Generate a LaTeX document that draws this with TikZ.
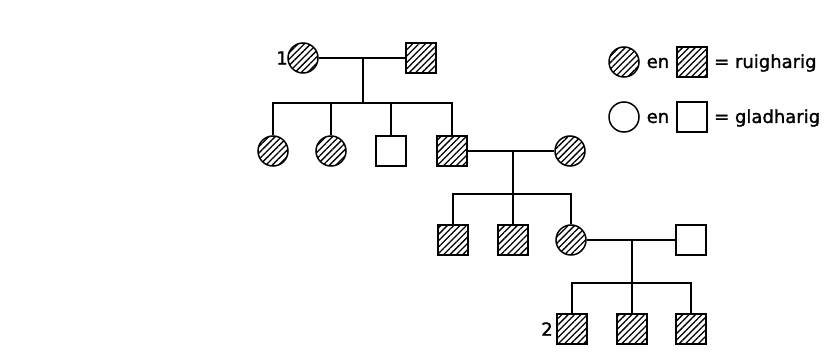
\documentclass[tikz,border=0pt]{standalone}
\usepackage{fontspec}
\setmainfont{DejaVu Sans}
\newfontfamily\lblfont[FakeBold=1.4]{DejaVu Sans}
\usetikzlibrary{patterns.meta}
\tikzset{
  lw/.style={line width=1.5pt},
  male/.style={draw, lw, minimum size=30pt, inner sep=0pt, rectangle},
  female/.style={draw, lw, minimum size=30pt, inner sep=0pt, circle},
  aff/.style={pattern={Lines[angle=45,distance=4.5pt,line width=1.3pt]}},
  link/.style={draw, lw},
  lbl/.style={font=\lblfont\fontsize{18}{20}\selectfont, inner sep=0pt}
}
\begin{document}
\begin{tikzpicture}[x=1pt,y=-1pt]
\useasboundingbox (0,0) rectangle (836,361);
% generation 1
\node[female,aff] (g1a) at (303,58) {};
\node[male,aff] (g1b) at (421,58) {};
\node[lbl] (n1) at (282,58) {1};
% generation 2
\node[female,aff] (g2a) at (273,151) {};
\node[female,aff] (g2b) at (331,151) {};
\node[male] (g2c) at (391,151) {};
\node[male,aff] (g2d) at (452,151) {};
\node[female,aff] (g2e) at (570,151) {};
% generation 3
\node[male,aff] (g3a) at (453,240) {};
\node[male,aff] (g3b) at (513,240) {};
\node[female,aff] (g3c) at (571,240) {};
\node[male] (g3d) at (691,240) {};
% generation 4
\node[male,aff] (g4a) at (572,329) {};
\node[male,aff] (g4b) at (632,329) {};
\node[male,aff] (g4c) at (691,329) {};
\node[lbl] (n2) at (547,329) {2};
% junction coordinates
\coordinate (m1) at (363,58);
\coordinate (s1) at (363,103);
\coordinate (m2) at (513,151);
\coordinate (s2) at (513,194);
\coordinate (m3) at (632,240);
\coordinate (s3) at (632,283);
% family 1
\draw[link] (g1a) -- (g1b);
\draw[link] (m1) -- (s1);
\draw[link] (g2a.north) |- (s1) -| (g2d.north);
\draw[link] (g2b.north) -- (g2b.north |- s1);
\draw[link] (g2c.north) -- (g2c.north |- s1);
% family 2
\draw[link] (g2d) -- (g2e);
\draw[link] (m2) -- (s2);
\draw[link] (g3a.north) |- (s2) -| (g3c.north);
\draw[link] (g3b.north) -- (s2);
% family 3
\draw[link] (g3c) -- (g3d);
\draw[link] (m3) -- (s3);
\draw[link] (g4a.north) |- (s3) -| (g4c.north);
\draw[link] (g4b.north) -- (s3);
% legend
\node[female,aff] (lc1) at (624,62) {};
\node[lbl] (le1) at (658,63) {en};
\node[male,aff] (ls1) at (692,62) {};
\node[lbl,anchor=west] (lt1) at (714,63) {= ruigharig};
\node[female] (lc2) at (624,117) {};
\node[lbl] (le2) at (658,118) {en};
\node[male] (ls2) at (692,117) {};
\node[lbl,anchor=west] (lt2) at (714,118) {= gladharig};
\end{tikzpicture}
\end{document}
